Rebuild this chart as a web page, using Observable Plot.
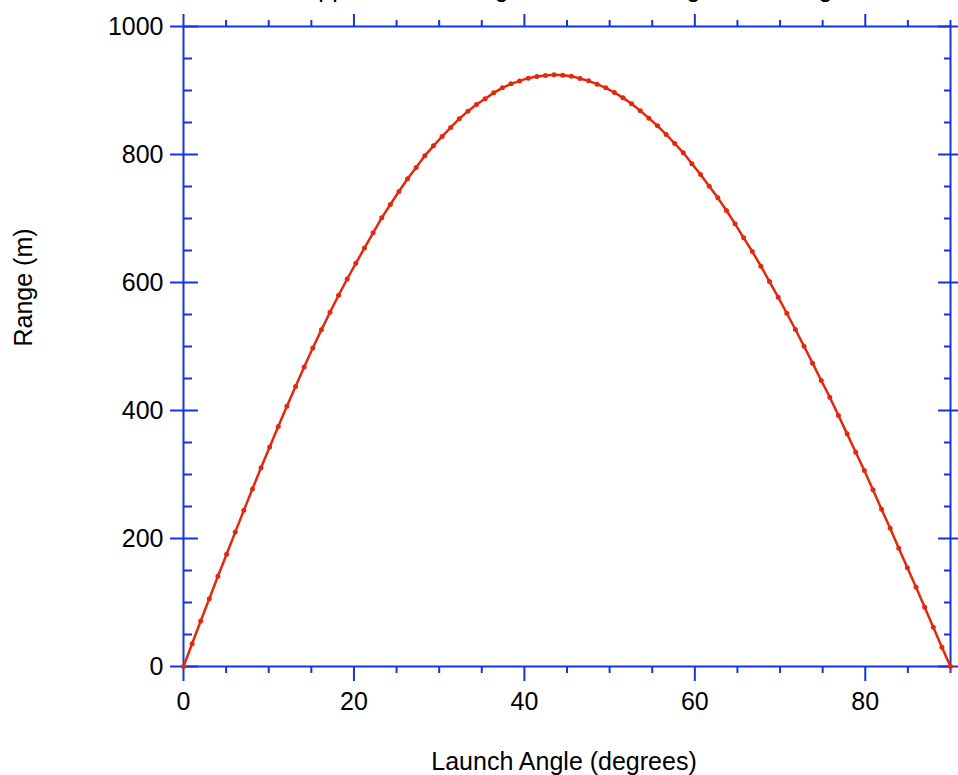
<!DOCTYPE html>
<html>
<head>
<meta charset="utf-8">
<script src="https://cdn.jsdelivr.net/npm/d3@7"></script>
<script src="https://cdn.jsdelivr.net/npm/@observablehq/plot@0.6"></script>
<style>
  html, body { margin: 0; padding: 0; background: #fff; }
  #chart { width: 958px; height: 775px; }
</style>
</head>
<body>
<div id="chart"></div>
<script>
const title = "Approximate Range vs. Launch Angle with Drag";
const xLabel = "Launch Angle (degrees)";
const yLabel = "Range (m)";

const angles = [
  0, 1.01, 2.02, 3.03, 4.04, 5.06, 6.07, 7.08, 8.09, 9.10,
  10.11, 11.12, 12.13, 13.15, 14.16, 15.17, 16.18, 17.19, 18.20, 19.21,
  20.22, 21.24, 22.25, 23.26, 24.27, 25.28, 26.29, 27.30, 28.31, 29.33,
  30.34, 31.35, 32.36, 33.37, 34.38, 35.39, 36.40, 37.42, 38.43, 39.44,
  40.45, 41.46, 42.47, 43.48, 44.49, 45.51, 46.52, 47.53, 48.54, 49.55,
  50.56, 51.57, 52.58, 53.60, 54.61, 55.62, 56.63, 57.64, 58.65, 59.66,
  60.67, 61.69, 62.70, 63.71, 64.72, 65.73, 66.74, 67.75, 68.76, 69.78,
  70.79, 71.80, 72.81, 73.82, 74.83, 75.84, 76.85, 77.87, 78.88, 79.89,
  80.90, 81.91, 82.92, 83.93, 84.94, 85.96, 86.97, 87.98, 88.99, 90
];

const ranges = [
  0, 35.5, 71, 106, 141, 175.5, 210, 244, 277.5, 310.5,
  343, 375, 406.5, 437.5, 468, 497.5, 526, 553.5, 580, 605.5,
  630, 654, 677.6, 701, 721.9, 742.2, 762, 779.7, 797.9, 813.5,
  828, 842.2, 855.7, 867.7, 878, 887, 896.3, 904.2, 910.4, 915,
  919.3, 921.9, 923.4, 924.5, 924.0, 922.4, 918.8, 915.1, 909.9, 904.2,
  896.9, 888.5, 879.2, 868.2, 856.8, 844.8, 831.3, 817.2, 802.6, 785.4,
  768.8, 750.5, 732.3, 712.5, 691.7, 669.8, 648.4, 625.5, 601.5, 577,
  552, 526.5, 500.5, 474, 446.9, 420.8, 392.2, 363.5, 334.9, 306.3,
  276, 245.8, 216.1, 184.9, 154.2, 124, 92.7, 61.5, 30.2, 0
];

const xMajorTicks = [0, 20, 40, 60, 80];
const xMinorTicks = [5, 10, 15, 25, 30, 35, 45, 50, 55, 65, 70, 75, 85, 90];
const yMajorTicks = [0, 200, 400, 600, 800, 1000];
const yMinorTicks = [50, 100, 150, 250, 300, 350, 450, 500, 550, 650, 700, 750, 850, 900, 950];

const data = angles.map((a, i) => ({angle: a, range: ranges[i]}));

const AXIS = "#1434e0";
const RED = "#e3290c";
const FONT = "'Liberation Sans', Arial, Helvetica, sans-serif";
const blank = () => "";
const plain = (d) => String(d);

const chart = Plot.plot({
  width: 958,
  height: 775,
  marginLeft: 183,
  marginRight: 8,
  marginTop: 26,
  marginBottom: 109,
  style: {fontFamily: FONT, fontSize: "25px", background: "white", color: "black"},
  x: {domain: [0, 90]},
  y: {domain: [0, 1000]},
  marks: [
    // bottom axis
    Plot.axisX(xMajorTicks, {anchor: "bottom", tickSize: 15, tickPadding: 11, stroke: AXIS, strokeWidth: 2, fill: "black", fontSize: 25, tickFormat: plain, label: null}),
    Plot.axisX(xMinorTicks, {anchor: "bottom", tickSize: 7, stroke: AXIS, strokeWidth: 2, tickFormat: blank, label: null}),
    // top axis
    Plot.axisX(xMajorTicks, {anchor: "top", tickSize: 13, stroke: AXIS, strokeWidth: 2, tickFormat: blank, label: null}),
    Plot.axisX(xMinorTicks, {anchor: "top", tickSize: 7, stroke: AXIS, strokeWidth: 2, tickFormat: blank, label: null}),
    // left axis
    Plot.axisY(yMajorTicks, {anchor: "left", tickSize: 13, tickPadding: 7, stroke: AXIS, strokeWidth: 2, fill: "black", fontSize: 25, tickFormat: plain, label: null}),
    Plot.axisY(yMajorTicks, {anchor: "left", tickSize: -15, stroke: AXIS, strokeWidth: 2, tickFormat: blank, label: null}),
    Plot.axisY(yMinorTicks, {anchor: "left", tickSize: -9, stroke: AXIS, strokeWidth: 2, tickFormat: blank, label: null}),
    // right axis
    Plot.axisY(yMajorTicks, {anchor: "right", tickSize: -13, stroke: AXIS, strokeWidth: 2, tickFormat: blank, label: null}),
    Plot.axisY(yMajorTicks, {anchor: "right", tickSize: 8, stroke: AXIS, strokeWidth: 2, tickFormat: blank, label: null}),
    Plot.axisY(yMinorTicks, {anchor: "right", tickSize: -7, stroke: AXIS, strokeWidth: 2, tickFormat: blank, label: null}),
    Plot.frame({stroke: AXIS, strokeWidth: 2}),
    // data
    Plot.line(data, {x: "angle", y: "range", stroke: RED, strokeWidth: 2.5}),
    Plot.dot(data, {x: "angle", y: "range", r: 2.5, fill: RED, stroke: null}),
    // labels
    Plot.text([xLabel], {frameAnchor: "bottom", dx: -3, dy: 103, lineAnchor: "bottom", fontSize: 25, fill: "black"}),
    Plot.text([yLabel], {frameAnchor: "left", dx: -152, rotate: -90, lineAnchor: "bottom", fontSize: 25, fill: "black"}),
    Plot.text([title], {frameAnchor: "top", dy: -30, lineAnchor: "bottom", fontSize: 25, fill: "black"})
  ]
});

document.getElementById("chart").appendChild(chart);
</script>
</body>
</html>
